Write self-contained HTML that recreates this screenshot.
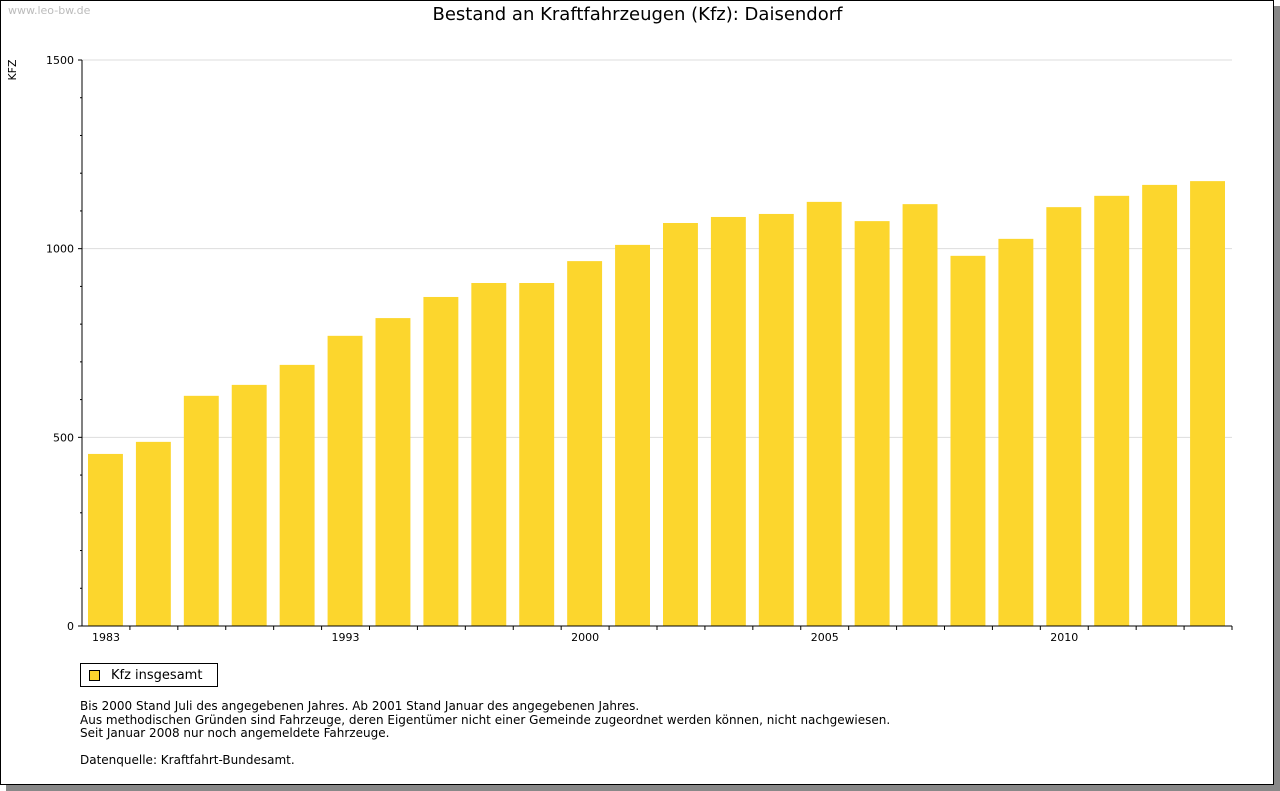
<!DOCTYPE html>
<html><head><meta charset="utf-8">
<style>
body{margin:0;background:#fff;font-family:"DejaVu Sans","Liberation Sans",sans-serif;}
#frame{position:absolute;left:0;top:0;width:1272px;height:783px;border:1px solid #000;background:#fff;box-shadow:6px 6px 0 #888;}
.t{position:absolute;white-space:nowrap;}
</style></head><body>
<div id="frame"></div>
<div class="t" style="left:8px;top:4px;font-size:11px;color:#bbb">www.leo-bw.de</div>
<div class="t" style="left:0;width:1275px;text-align:center;top:4px;font-size:18px;color:#000">Bestand an Kraftfahrzeugen (Kfz): Daisendorf</div>
<svg id="chart" width="1280" height="791" style="position:absolute;left:0;top:0"></svg>
<div class="t" style="left:80px;top:663px;width:136px;height:22px;border:1px solid #000;font-size:13px;">
<span style="position:absolute;left:8px;top:6px;width:9px;height:9px;background:#fcd62d;border:1px solid #000"></span>
<span style="position:absolute;left:30px;top:4px">Kfz insgesamt</span></div>
<div class="t" style="left:80px;top:700px;font-size:12px;line-height:13.5px">Bis 2000 Stand Juli des angegebenen Jahres. Ab 2001 Stand Januar des angegebenen Jahres.<br>Aus methodischen Gründen sind Fahrzeuge, deren Eigentümer nicht einer Gemeinde zugeordnet werden können, nicht nachgewiesen.<br>Seit Januar 2008 nur noch angemeldete Fahrzeuge.<br><br>Datenquelle: Kraftfahrt-Bundesamt.</div>
<script>
const categories=["1983","1985","1987","1989","1991","1993","1994","1995","1996","1997","2000","2001","2002","2003","2004","2005","2006","2007","2008","2009","2010","2011","2012","2013"];
const values=[456,488,610,639,692,769,816,872,909,909,967,1010,1068,1084,1092,1124,1073,1118,981,1026,1110,1140,1169,1179];
const shownLabels=["1983","1993","2000","2005","2010"];
const yTicks=[0,500,1000,1500];
const NS="http://www.w3.org/2000/svg";
const svg=document.getElementById('chart');
const X0=82,X1=1232,Y0=626,Y1=60,YMAX=1500;
const band=(X1-X0)/categories.length;
const y=v=>Y0-(v/YMAX)*(Y0-Y1);
const xb=i=>X0+i*band;
function mk(tag,a){const e=document.createElementNS(NS,tag);for(const k in a)e.setAttribute(k,a[k]);svg.appendChild(e);return e;}
yTicks.forEach(t=>{
  if(t>0){const g=mk('line',{x1:X0,x2:X1,y1:y(t),y2:y(t),stroke:'#ddd'});
  
  }
  const tk=mk('line',{x1:X0-4,x2:X0,y1:y(t),y2:y(t),stroke:'#000'});
  
  
  const l=mk('text',{x:X0-8,y:y(t)+4,'text-anchor':'end','font-size':11,'font-family':'DejaVu Sans,sans-serif'});
  l.textContent=t;
  
  
});
for(let t=100;t<YMAX;t+=100){if(t%500){const m=mk('line',{x1:X0-2,x2:X0,y1:y(t),y2:y(t),stroke:'#000'});

}}
values.forEach((v,i)=>{
  const r=mk('rect',{x:xb(i)+6,y:y(v),width:band-13,height:Y0-y(v),fill:'#fcd62d'});
  
  
});
categories.forEach((c,i)=>{
  const tk=mk('line',{x1:xb(i+1),x2:xb(i+1),y1:Y0,y2:Y0+4,stroke:'#000'});
  
  
  if(shownLabels.includes(c)){
    const l=mk('text',{x:xb(i)+band/2,y:Y0+15,'text-anchor':'middle','font-size':11,'font-family':'DejaVu Sans,sans-serif'});
    l.textContent=c;
    
    
  }
});
const ax=mk('line',{x1:X0,x2:X0,y1:Y1,y2:Y0,stroke:'#000'});


const bx=mk('line',{x1:X0,x2:X1,y1:Y0,y2:Y0,stroke:'#000'});


const yt=mk('text',{x:16,y:70,'text-anchor':'middle','font-size':11,'font-family':'DejaVu Sans,sans-serif',transform:'rotate(-90 16 70)'});
yt.textContent='KFZ';


</script>
</body></html>
